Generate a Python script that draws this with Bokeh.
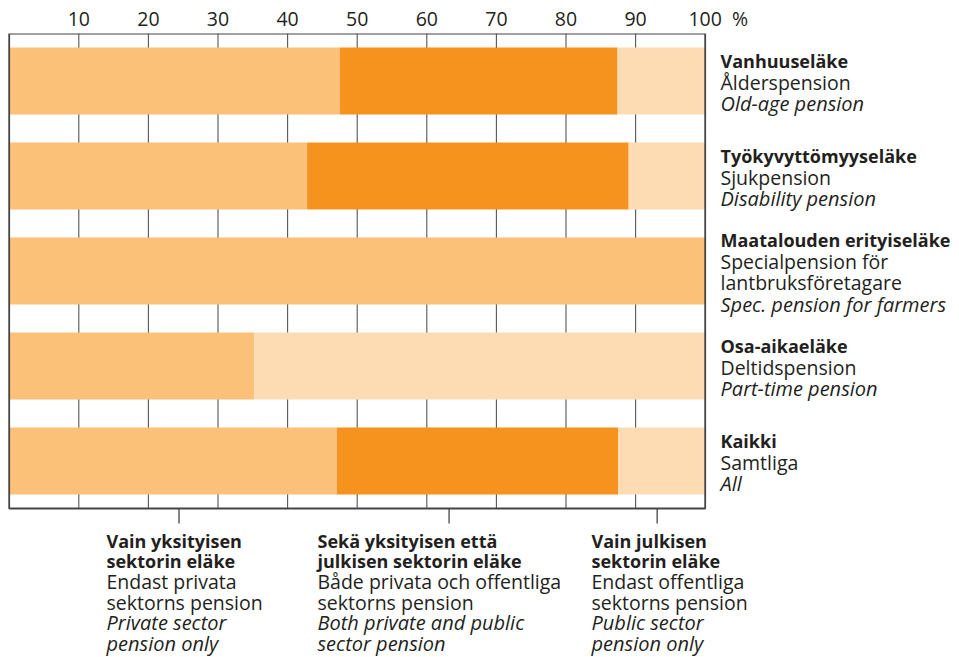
from bokeh.plotting import figure
from bokeh.models import Range1d, LinearAxis, FixedTicker, ColumnDataSource
from bokeh.embed import file_html
from bokeh.resources import INLINE
from bokeh.core.properties import value

# ---------------- data ----------------
categories_fi = ["Vanhuuseläke", "Työkyvyttömyyseläke", "Maatalouden erityiseläke",
                 "Osa-aikaeläke", "Kaikki"]
categories_sv = [["Ålderspension"], ["Sjukpension"],
                 ["Specialpension för", "lantbruksföretagare"],
                 ["Deltidspension"], ["Samtliga"]]
categories_en = ["Old-age pension", "Disability pension", "Spec. pension for farmers",
                 "Part-time pension", "All"]

private_only = [47.5, 42.8, 100.0, 35.2, 47.1]
both_sectors = [39.9, 46.2, 0.0, 0.0, 40.4]
public_only = [12.6, 11.0, 0.0, 64.8, 12.5]

x_ticks = [10, 20, 30, 40, 50, 60, 70, 80, 90, 100]
unit_label = "%"

series_fi = [["Vain yksityisen", "sektorin eläke"],
             ["Sekä yksityisen että", "julkisen sektorin eläke"],
             ["Vain julkisen", "sektorin eläke"]]
series_sv = [["Endast privata", "sektorns pension"],
             ["Både privata och offentliga", "sektorns pension"],
             ["Endast offentliga", "sektorns pension"]]
series_en = [["Private sector", "pension only"],
             ["Both private and public", "sector pension"],
             ["Public sector", "pension only"]]

# ---------------- layout / style ----------------
W, H, TOP = 959, 657, 33
PX_X = 6.96          # pixels per percent
ROW_PX = 95          # pixels per category row
X0 = -8.7 / PX_X
x_end = X0 + W / PX_X
y_top = -0.5
y_bottom = y_top + (H - TOP) / ROW_PX
n = len(categories_fi)
frame_bottom = y_top + n


def px(x):
    return (x - 8.7) / PX_X


COLORS = ["#FBC178", "#F6921E", "#FDDCB4"]
TXT = "#231F20"
FONT = "Open Sans"

p = figure(width=W, height=H, x_range=Range1d(X0, x_end), y_range=Range1d(y_bottom, y_top),
           output_backend="svg", toolbar_location=None,
           min_border_left=0, min_border_right=0, min_border_bottom=0, min_border_top=TOP,
           x_axis_location=None, y_axis_location=None, outline_line_color=None)
p.grid.visible = False

# top axis (ticks + unit label)
pct_pos = 105
ax = LinearAxis(ticker=FixedTicker(ticks=x_ticks + [pct_pos]), axis_line_color=None,
                major_tick_line_color=None, minor_tick_line_color=None,
                major_tick_out=0, major_tick_in=0,
                major_label_overrides={pct_pos: unit_label},
                major_label_text_font_size="19.5px", major_label_text_font=FONT,
                major_label_text_color=TXT, major_label_standoff=2)
p.add_layout(ax, "above")

# vertical grid lines
gx = x_ticks[:-1]
p.segment(x0=gx, y0=[y_top] * len(gx), x1=gx, y1=[frame_bottom] * len(gx),
          line_color="#555555", line_width=1.1)

# bars
ys = list(range(n))
src = ColumnDataSource(dict(y=ys, private=private_only, both=both_sectors, public=public_only))
p.hbar_stack(["private", "both", "public"], y="y", height=67 / ROW_PX, color=COLORS,
             line_color=None, source=src)

# frame border
p.quad(left=[0], right=[100], top=[y_top], bottom=[frame_bottom], fill_color=None,
       line_color="#444444", line_width=1.8)

# pointer ticks below frame
ptr = [24.4, 63.2, 93.1]
p.segment(x0=ptr, y0=[frame_bottom] * 3, x1=ptr, y1=[frame_bottom + 15 / ROW_PX] * 3,
          line_color="#444444", line_width=1.3)

groups = {}


def add(key, x, y, t):
    g = groups.setdefault(key, ([], [], []))
    g[0].append(x); g[1].append(y); g[2].append(t)


# right category labels
lx = px(720)
LINE = 21.5
for i in range(n):
    lines = [(categories_fi[i], "rb")] + [(s, "rn") for s in categories_sv[i]] + \
            [(categories_en[i], "ri")]
    k = len(lines)
    for j, (t, st) in enumerate(lines):
        add(st, lx, i + ((j - (k - 1) / 2) * LINE + 1) / ROW_PX, t)

# bottom series labels
sx = [px(106), px(317), px(591)]
for s in range(3):
    lines = [(t, "bb") for t in series_fi[s]] + [(t, "bn") for t in series_sv[s]] + \
            [(t, "bi") for t in series_en[s]]
    for j, (t, st) in enumerate(lines):
        add(st, sx[s], frame_bottom + (32 + j * 20.6) / ROW_PX, t)

styles = {"rb": ("bold", "18px"), "rn": ("normal", "19.5px"), "ri": ("italic", "20px"),
          "bb": ("bold", "18px"), "bn": ("normal", "19.5px"), "bi": ("italic", "20px")}
for key, (xs_, ys_, ts_) in groups.items():
    st, fs = styles[key]
    p.text(x=xs_, y=ys_, text=ts_, text_font=value(FONT), text_font_size=fs,
           text_font_style=st, text_color=TXT, text_baseline="middle", text_align="left")

open("out.html", "w").write(file_html(p, INLINE))
